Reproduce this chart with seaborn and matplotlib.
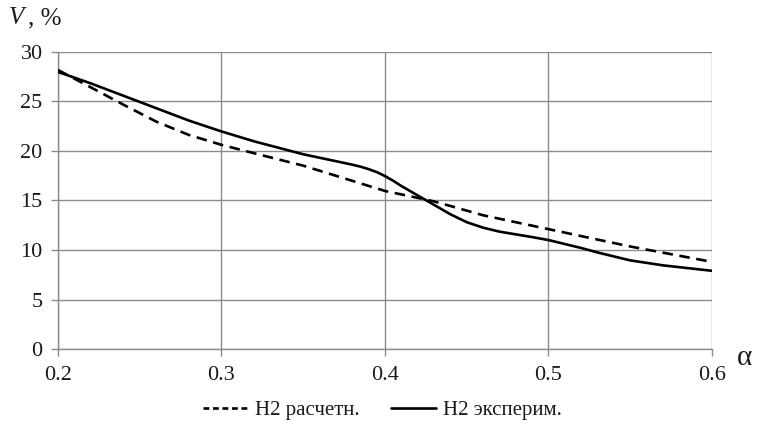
import matplotlib
matplotlib.use("Agg")
import matplotlib.pyplot as plt
import seaborn as sns
import pandas as pd
from matplotlib.lines import Line2D

# Data
alpha_calc = [0.2, 0.22, 0.24, 0.26, 0.28, 0.3, 0.32, 0.35, 0.4, 0.43, 0.46, 0.49, 0.5, 0.55, 0.6]
v_calc = [28.15, 26.4, 24.65, 22.95, 21.6, 20.6, 19.75, 18.5, 15.95, 14.9, 13.5, 12.45, 12.1, 10.35, 8.8]

alpha_exp = [0.2, 0.22, 0.24, 0.26, 0.28, 0.3, 0.32, 0.35, 0.37, 0.38, 0.385, 0.39, 0.395, 0.4, 0.405,
             0.41, 0.42, 0.43, 0.44, 0.45, 0.46, 0.47, 0.49, 0.5, 0.52, 0.53, 0.55, 0.57, 0.6]
v_exp = [27.95, 26.8, 25.55, 24.3, 23.05, 21.95, 20.95, 19.65, 18.95, 18.6, 18.4, 18.15, 17.85, 17.45, 16.98,
         16.45, 15.5, 14.55, 13.6, 12.8, 12.25, 11.85, 11.3, 11.0, 10.2, 9.75, 8.95, 8.45, 7.9]

label_calc = "H2 расчетн."
label_exp = "H2 эксперим."
x_ticks = [0.2, 0.3, 0.4, 0.5, 0.6]
y_ticks = [0, 5, 10, 15, 20, 25, 30]

sns.set_theme(style="white")
plt.rcParams['font.family'] = ['Liberation Serif', 'DejaVu Serif']

fig = plt.figure(figsize=(7.64, 4.30), dpi=100)
ax = fig.add_axes([0.0759, 0.188, 0.856, 0.692])

df_calc = pd.DataFrame({"alpha": alpha_calc, "V": v_calc})
df_exp = pd.DataFrame({"alpha": alpha_exp, "V": v_exp})

sns.lineplot(data=df_calc, x="alpha", y="V", ax=ax, color="black", lw=1.9,
             linestyle=(0, (4, 2.5)), zorder=3)
sns.lineplot(data=df_exp, x="alpha", y="V", ax=ax, color="black", lw=1.9, zorder=4)
for ln in ax.get_lines():
    ln.set_solid_joinstyle("round")
    ln.set_dash_joinstyle("round")

ax.set_xlim(0.2, 0.6)
ax.set_ylim(0, 30)
ax.set_xticks(x_ticks)
ax.set_xticklabels([f"{t:.1f}" for t in x_ticks])
ax.set_yticks(y_ticks)
ax.set_xlabel("")
ax.set_ylabel("")

ax.grid(True, color="#8c8c8c", lw=1.0)
ax.set_axisbelow(True)
for s in ["top", "right"]:
    ax.spines[s].set_visible(False)
for s in ["left", "bottom"]:
    ax.spines[s].set_color("#8c8c8c")
    ax.spines[s].set_linewidth(1.0)

ax.tick_params(axis="both", direction="out", length=5, width=1.0, color="#8c8c8c",
               labelsize=16, labelcolor="#1a1a1a", pad=6)
ax.tick_params(axis="x", pad=7)
ax.tick_params(axis="y", left=True)
ax.tick_params(axis="x", bottom=True)

fig.text(0.012, 0.958, "V", fontsize=18, style="italic", color="#1a1a1a", va="center")
fig.text(0.036, 0.958, ", %", fontsize=18, color="#1a1a1a", va="center")
fig.text(0.975, 0.168, "α", fontsize=21, color="#1a1a1a", ha="center", va="center")

handles = [Line2D([0], [0], color="black", lw=1.9, linestyle=(0, (2.2, 1.4))),
           Line2D([0], [0], color="black", lw=1.9)]
fig.legend(handles, [label_calc, label_exp], loc="center", bbox_to_anchor=(0.5, 0.045),
           ncol=2, frameon=False, fontsize=15, handlelength=2.2, handletextpad=0.3,
           columnspacing=1.5, labelcolor="#1a1a1a")

fig.savefig("out.png", dpi=100)
